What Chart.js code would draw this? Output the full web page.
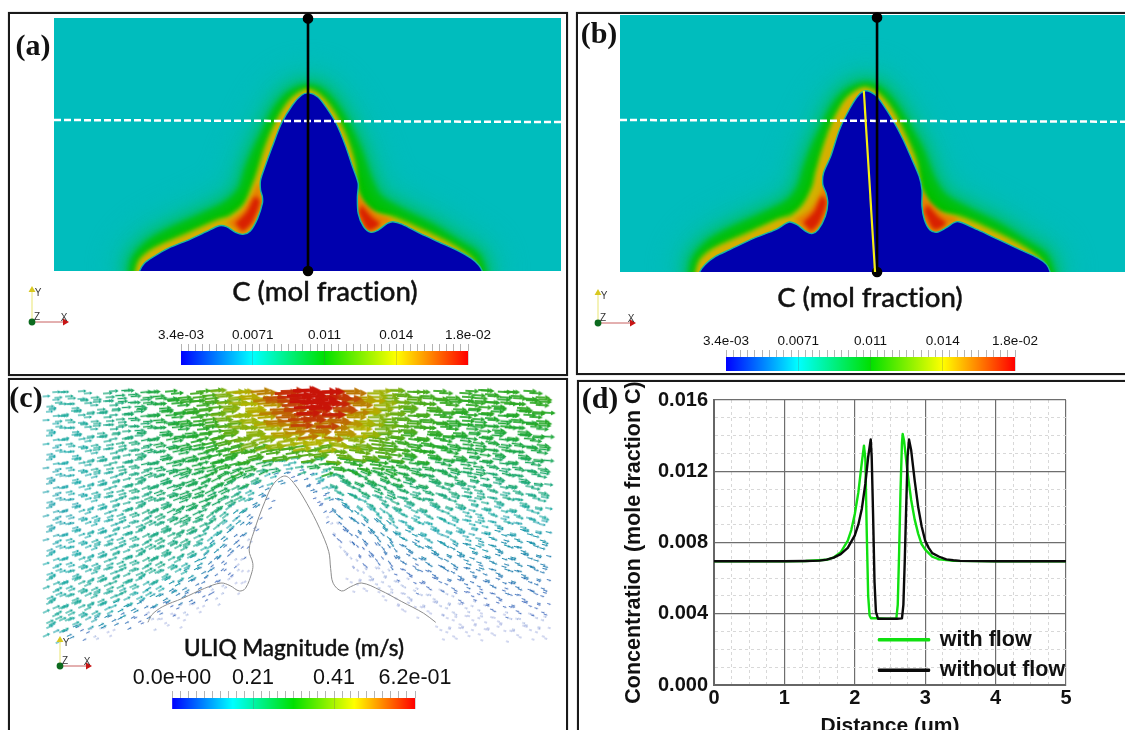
<!DOCTYPE html>
<html>
<head>
<meta charset="utf-8">
<title>Concentration and flow around a dendrite</title>
<script src="https://cdn.jsdelivr.net/npm/chart.js@4/dist/chart.umd.js"></script>
<style>
html, body { margin: 0; padding: 0; background: #fff; }
#page { position: relative; width: 1125px; height: 730px; overflow: hidden; }
canvas { position: absolute; }
.frame { position: absolute; border: 2px solid #1a1a1a; box-shadow: 0 0 1px #888; box-sizing: border-box; }
.txt { position: absolute; white-space: nowrap; transform: translate(-50%, -50%); color: #111; }
.tag { font: bold 30px "Liberation Serif", serif; }
.name { font: 500 27.5px Lato, sans-serif; -webkit-text-stroke: 0.4px #111; font-variant-ligatures: none; }
.name.small { font-size: 22.5px; }
.axis { font: 10px "Liberation Sans", sans-serif; color: #333; }
</style>
</head>
<body>
<div id="page"></div>
<script>
// Panel (a): field contours, x and y in um
var aBlueX = [0.82, 0.844, 0.891, 0.981, 1.125, 1.341, 1.503, 1.629, 1.701, 1.791, 1.864, 1.936, 2.008, 2.055, 2.055, 2.037, 2.037, 2.08, 2.152, 2.242, 2.35, 2.44, 2.512, 2.602, 2.693, 2.783, 2.873, 2.945, 3.0, 2.992, 3.0, 3.053, 3.125, 3.197, 3.287, 3.341, 3.431, 3.611, 3.791, 3.972, 4.116, 4.188, 4.224, 4.25];
var aBlueY = [-0.1, 0, 0.076, 0.141, 0.224, 0.313, 0.388, 0.447, 0.438, 0.382, 0.362, 0.395, 0.52, 0.668, 0.734, 0.799, 0.898, 1.03, 1.227, 1.457, 1.638, 1.737, 1.76, 1.72, 1.605, 1.457, 1.243, 1.03, 0.865, 0.734, 0.569, 0.4375, 0.382, 0.405, 0.47, 0.487, 0.464, 0.372, 0.289, 0.207, 0.125, 0.059, 0, -0.1];
var aGreenX = [0.766, 0.799, 0.947, 1.144, 1.473, 1.703, 1.851, 1.917, 1.999, 2.097, 2.196, 2.328, 2.492, 2.623, 2.755, 2.886, 3.001, 3.1, 3.199, 3.412, 3.708, 3.971, 4.168, 4.25];
var aGreenY = [-0.1, 0.108, 0.273, 0.388, 0.537, 0.652, 0.8, 0.998, 1.195, 1.393, 1.591, 1.739, 1.805, 1.772, 1.64, 1.426, 1.179, 0.899, 0.718, 0.586, 0.438, 0.273, 0.141, -0.1];
var aYellowX = [0.799, 0.848, 0.98, 1.309, 1.604, 1.736, 1.884, 1.966, 2.015, 2.097, 2.196, 2.328, 2.492, 2.623, 2.755, 2.87, 2.952, 2.992, 3.1, 3.347, 3.61, 3.938, 4.135, 4.201];
var aYellowY = [-0.1, 0.092, 0.207, 0.355, 0.487, 0.53, 0.652, 0.833, 0.965, 1.228, 1.459, 1.673, 1.782, 1.722, 1.558, 1.327, 1.064, 0.767, 0.586, 0.52, 0.405, 0.24, 0.092, -0.1];
var aOrangeLeftX = [1.703, 1.851, 1.966, 2.012, 2.048, 1.966, 1.867, 1.752];
var aOrangeLeftY = [0.477, 0.586, 0.767, 0.866, 0.701, 0.487, 0.378, 0.438];
var aOrangeRightX = [2.969, 2.985, 3.1, 3.231, 3.33, 3.182, 3.051];
var aOrangeRightY = [0.8, 0.569, 0.388, 0.454, 0.504, 0.569, 0.685];
var aRedLeftX = [1.785, 1.9, 1.982, 2.032, 1.95, 1.861];
var aRedLeftY = [0.471, 0.586, 0.734, 0.685, 0.471, 0.388];
var aRedRightX = [3.001, 3.1, 3.215, 3.133, 3.034];
var aRedRightY = [0.586, 0.405, 0.464, 0.537, 0.652];

// Panel (b): field contours, x and y in um
var bBlueX = [0.76, 0.789, 0.841, 0.946, 1.087, 1.332, 1.542, 1.675, 1.753, 1.84, 1.9, 1.963, 2.033, 2.057, 2.04, 2.008, 2.015, 2.086, 2.173, 2.278, 2.366, 2.436, 2.524, 2.594, 2.699, 2.804, 2.892, 2.962, 2.99, 2.99, 3.014, 3.067, 3.137, 3.225, 3.312, 3.365, 3.54, 3.75, 3.961, 4.136, 4.224, 4.259, 4.28];
var bBlueY = [-0.1, 0, 0.073, 0.155, 0.221, 0.337, 0.419, 0.495, 0.469, 0.403, 0.38, 0.419, 0.551, 0.683, 0.782, 0.865, 0.98, 1.145, 1.409, 1.624, 1.756, 1.795, 1.756, 1.673, 1.508, 1.31, 1.112, 0.947, 0.815, 0.65, 0.518, 0.419, 0.393, 0.436, 0.492, 0.495, 0.419, 0.32, 0.221, 0.139, 0.073, 0, -0.1];
var bGreenX = [0.71, 0.745, 0.89, 1.09, 1.44, 1.67, 1.79, 1.85, 1.925, 2.02, 2.12, 2.25, 2.416, 2.55, 2.69, 2.83, 2.97, 3.08, 3.2, 3.44, 3.74, 4.0, 4.2, 4.29];
var bGreenY = [-0.1, 0.12, 0.285, 0.4, 0.56, 0.68, 0.83, 1.02, 1.22, 1.42, 1.62, 1.77, 1.84, 1.81, 1.67, 1.45, 1.2, 0.92, 0.74, 0.6, 0.45, 0.285, 0.15, -0.1];
var bYellowX = [0.745, 0.795, 0.93, 1.26, 1.57, 1.71, 1.83, 1.92, 1.95, 2.03, 2.12, 2.25, 2.416, 2.55, 2.69, 2.81, 2.92, 2.98, 3.1, 3.37, 3.64, 3.97, 4.17, 4.24];
var bYellowY = [-0.1, 0.1, 0.22, 0.37, 0.51, 0.555, 0.67, 0.85, 0.98, 1.25, 1.49, 1.71, 1.815, 1.76, 1.59, 1.36, 1.1, 0.8, 0.6, 0.535, 0.42, 0.25, 0.1, -0.1];
var bOrangeLeftX = [1.73, 1.88, 1.99, 2.03, 2.07, 1.99, 1.9, 1.79];
var bOrangeLeftY = [0.52, 0.62, 0.79, 0.87, 0.7, 0.5, 0.39, 0.46];
var bOrangeRightX = [2.97, 2.99, 3.11, 3.24, 3.35, 3.2, 3.06];
var bOrangeRightY = [0.83, 0.58, 0.4, 0.47, 0.52, 0.58, 0.7];
var bRedLeftX = [1.81, 1.92, 2.0, 2.045, 1.97, 1.89];
var bRedLeftY = [0.49, 0.6, 0.75, 0.69, 0.48, 0.4];
var bRedRightX = [3.01, 3.11, 3.23, 3.15, 3.04];
var bRedRightY = [0.6, 0.42, 0.48, 0.55, 0.67];

// Section lines on the field panels, in um
var fieldCornersX = [-0.2, 5.2, 5.2, -0.2];
var fieldCornersY = [-0.2, -0.2, 2.7, 2.7];
var aCutY = [1.492, 1.472];
var bCutY = [1.505, 1.488];
var aProbeX = [2.505, 2.505];
var aProbeY = [0, 2.495];
var bProbeX = [2.545, 2.545];
var bProbeY = [0, 2.52];
var bTiltX = [2.414, 2.525];
var bTiltY = [1.795, 0];

// Colour bars
var colorPositions = [0, 0.25, 0.5, 0.75, 1];
var colorNames = ["#0000ff", "#00ffff", "#00e000", "#ffff00", "#ff0000"];
var concTicks = [0.0034, 0.00705, 0.0107, 0.01435, 0.018];
var concLabels = ["3.4e-03", "0.0071", "0.011", "0.014", "1.8e-02"];
var speedTicks = [0, 0.2067, 0.4133, 0.62];
var speedLabels = ["0.0e+00", "0.21", "0.41", "6.2e-01"];

// Panel (c): outline in um
var cOutlineX = [1.218, 1.261, 1.39, 1.625, 1.882, 2.074, 2.181, 2.289, 2.361, 2.438, 2.447, 2.404, 2.46, 2.588, 2.695, 2.823, 2.93, 3.08, 3.23, 3.337, 3.359, 3.389, 3.487, 3.594, 3.723, 3.936, 4.193, 4.45, 4.591];
var cOutlineY = [0.23, 0.316, 0.414, 0.512, 0.629, 0.691, 0.66, 0.598, 0.629, 0.824, 0.922, 1.078, 1.293, 1.645, 1.859, 1.945, 1.859, 1.625, 1.332, 1.059, 0.863, 0.688, 0.598, 0.648, 0.691, 0.609, 0.473, 0.336, 0.23];

// Panel (c): sample positions and liquid speed in cm/s, one row per y
var flowColumns = [0, 0.15, 0.3, 0.45, 0.6, 0.75, 0.9, 1.05, 1.2, 1.35, 1.5, 1.65, 1.8, 1.95, 2.1, 2.25, 2.4, 2.55, 2.7, 2.85, 3, 3.15, 3.3, 3.45, 3.6, 3.75, 3.9, 4.05, 4.2, 4.35, 4.5, 4.65, 4.8, 4.95, 5.1, 5.25, 5.4, 5.55, 5.7, 5.85, 6];
var flowRows = [2.9, 2.76, 2.62, 2.48, 2.34, 2.2, 2.06, 1.92, 1.78, 1.64, 1.5, 1.36, 1.22, 1.08, 0.94, 0.8, 0.66, 0.52, 0.38, 0.24, 0.1];
var flowSpeed = [
    [14,15,16,16,17,19,21,22,24,26,28,30,32,33,38,42,45,49,53,57,60,62,61,56,50,46,42,38,35,33,32,31,31,30,30,30,30,30,30,31,31],
    [14,15,15,16,17,18,20,22,24,26,28,30,31,33,38,41,44,47,51,55,59,60,58,54,49,45,41,37,35,33,32,31,30,30,30,29,29,30,30,30,30],
    [13,14,15,15,16,17,19,21,23,25,27,28,30,32,37,40,42,45,49,52,55,56,55,51,47,43,39,36,34,32,31,30,29,29,28,28,28,28,29,29,29],
    [13,14,14,15,16,17,18,20,22,24,26,27,29,31,35,38,40,42,46,48,50,50,49,47,44,41,37,34,33,31,30,29,28,27,27,27,27,27,27,28,28],
    [13,13,14,14,15,16,18,19,21,23,25,26,28,30,33,36,38,39,41,42,43,44,43,42,40,37,35,33,31,30,29,28,27,26,26,26,25,25,26,26,26],
    [12,13,13,14,15,16,17,19,20,22,24,25,27,28,30,31,32,33,33,33,34,35,36,36,36,35,34,32,30,29,28,27,26,25,25,24,24,24,24,24,25],
    [12,13,13,14,15,16,17,18,20,21,23,24,25,27,28,28,27,24,20,14,18,24,28,29,29,29,29,28,27,26,25,24,24,23,23,22,22,22,22,22,23],
    [12,12,13,13,14,15,17,18,19,21,22,23,24,25,25,23,19,13,8,4,6,13,18,21,23,24,25,25,24,23,22,22,21,21,20,20,20,20,20,20,21],
    [12,12,13,13,14,15,16,18,19,20,21,22,23,23,22,19,14,8,0,0,0,6,12,16,19,20,21,21,21,20,20,19,19,18,18,18,18,18,18,18,19],
    [12,12,12,13,14,15,16,17,18,19,21,22,22,21,19,15,9,4,0,0,0,3,7,11,14,16,17,18,18,18,18,17,17,16,16,16,16,16,16,16,16],
    [12,12,12,13,13,14,15,17,18,19,20,20,20,19,16,11,6,0,0,0,0,0,4,8,10,12,14,15,15,15,15,15,15,14,14,14,14,14,14,14,14],
    [12,12,12,13,13,14,15,16,17,18,19,19,18,16,12,8,3,0,0,0,0,0,2,5,7,9,11,12,13,13,13,13,13,13,13,12,12,12,12,12,12],
    [12,12,13,13,14,14,15,16,17,18,18,18,16,13,9,5,2,0,0,0,0,0,0,3,5,6,8,10,11,11,12,12,12,12,12,11,11,11,11,11,11],
    [12,13,13,13,14,15,15,16,17,17,17,16,14,10,6,3,0,0,0,0,0,0,0,2,3,4,6,7,8,9,10,10,10,11,11,10,10,10,10,10,10],
    [13,13,13,14,14,15,16,16,17,17,16,14,11,7,4,2,0,0,0,0,0,0,0,0,2,3,4,5,6,7,8,8,8,9,9,9,9,9,9,8,8],
    [13,13,14,14,15,15,16,16,16,15,14,11,8,4,3,1,0,0,0,0,0,0,0,0,1,2,2,3,4,4,5,6,6,7,7,8,8,8,7,7,7],
    [14,14,14,15,15,16,16,15,14,13,11,8,5,3,2,1,0,0,0,0,0,0,0,0,1,1,2,2,2,3,3,4,4,5,5,6,6,6,6,5,5],
    [14,14,15,15,15,15,14,13,11,9,7,5,3,2,0,0,0,0,0,0,0,0,0,0,0,0,1,1,2,2,2,2,3,3,3,4,4,4,4,4,4],
    [14,15,15,15,14,13,11,9,6,4,3,2,1,0,0,0,0,0,0,0,0,0,0,0,0,0,0,0,1,1,1,2,2,2,2,3,3,3,3,3,3],
    [15,15,14,12,10,7,5,3,2,1,1,0,0,0,0,0,0,0,0,0,0,0,0,0,0,0,0,0,0,0,0,1,1,1,1,1,2,2,2,2,2],
    [14,12,8,4,2,1,0,0,0,0,0,0,0,0,0,0,0,0,0,0,0,0,0,0,0,0,0,0,0,0,0,1,1,1,1,1,1,1,1,1,1]
];
// Each cell of the table above holds a few arrows; the mesh is not regular
var cellSitesX = [0, 0.07, -0.05, 0.03];
var cellSitesY = [0, 0.05, 0.065, -0.06];
var columnShiftY = [0, 0.03, -0.02, 0.04, -0.035, 0.015, -0.01];
var flowLimitsX = [0.03, 5.92];
var flowTopY = 2.95;

// Panel (c): flow direction in degrees, coarse table read from the arrows
var angleColumns = [0, 0.75, 1.5, 2.25, 3, 3.75, 4.5, 5.25, 6];
var angleRows = [2.6, 2.2, 1.8, 1.4, 1, 0.6, 0.2];
var flowAngle = [
    [4, 4, 5, 5, 2, 0, -2, -3, -3],
    [8, 10, 12, 14, 8, -6, -8, -7, -5],
    [12, 15, 20, 26, 18, -22, -14, -11, -8],
    [15, 20, 26, 38, 30, -40, -22, -14, -12],
    [18, 22, 28, 40, 30, -50, -28, -18, -15],
    [22, 25, 30, 35, 20, -20, -25, -20, -18],
    [25, 28, 25, 15, 0, -10, -18, -18, -18]
];

// Panel (d): line scan along the dashed line
var noFlowX = [0, 0.5, 1, 1.3, 1.5, 1.6, 1.7, 1.8, 1.9, 2, 2.05, 2.1, 2.15, 2.19, 2.226, 2.24, 2.26, 2.28, 2.3, 2.33, 2.4, 2.5, 2.6, 2.67, 2.69, 2.71, 2.73, 2.75, 2.77, 2.8, 2.85, 2.9, 2.95, 3, 3.05, 3.1, 3.2, 3.3, 3.4, 3.5, 4, 5];
var noFlowC = [0.00695, 0.00695, 0.00695, 0.00696, 0.00698, 0.00704, 0.00715, 0.00735, 0.0077, 0.0084, 0.009, 0.0099, 0.0113, 0.0128, 0.01379, 0.0128, 0.0095, 0.0058, 0.0041, 0.00372, 0.00372, 0.00372, 0.00372, 0.00374, 0.0045, 0.007, 0.01, 0.0128, 0.01379, 0.0132, 0.0115, 0.01, 0.0089, 0.0081, 0.0077, 0.0074, 0.0072, 0.00705, 0.007, 0.00697, 0.00695, 0.00695];
var withFlowX = [0, 0.5, 1, 1.3, 1.6, 1.7, 1.8, 1.9, 1.95, 2, 2.05, 2.1, 2.13, 2.15, 2.17, 2.19, 2.21, 2.23, 2.3, 2.45, 2.59, 2.61, 2.63, 2.65, 2.67, 2.68, 2.7, 2.75, 2.8, 2.85, 2.9, 2.95, 3, 3.05, 3.1, 3.2, 3.4, 4, 5];
var withFlowC = [0.00695, 0.00695, 0.00695, 0.00696, 0.00703, 0.00716, 0.00745, 0.0081, 0.0087, 0.0096, 0.0108, 0.0125, 0.01344, 0.0127, 0.0085, 0.005, 0.0039, 0.00375, 0.00375, 0.00372, 0.00372, 0.0045, 0.0075, 0.011, 0.0136, 0.01409, 0.0137, 0.0119, 0.0104, 0.0093, 0.0085, 0.0079, 0.0076, 0.0074, 0.0072, 0.00705, 0.00697, 0.00695, 0.00695];

Chart.defaults.animation = false;
Chart.defaults.responsive = false;
Chart.defaults.plugins.legend.display = false;
Chart.defaults.plugins.tooltip.enabled = false;

var page = document.getElementById("page");

function addCanvas(left, top, width, height) {
    var c = document.createElement("canvas");
    c.width = width;
    c.height = height;
    c.style.left = left + "px";
    c.style.top = top + "px";
    page.appendChild(c);
    return c.getContext("2d");
}

function addText(x, y, text, cls) {
    var d = document.createElement("div");
    d.className = "txt " + cls;
    d.style.left = x + "px";
    d.style.top = y + "px";
    d.textContent = text;
    page.appendChild(d);
}

function addFrame(left, top, width, height) {
    var d = document.createElement("div");
    d.className = "frame";
    d.style.left = left + "px";
    d.style.top = top + "px";
    d.style.width = width + "px";
    d.style.height = height + "px";
    page.appendChild(d);
}

function toPoints(xs, ys) {
    return xs.map(function(x, i) {
        return { x: x, y: ys[i] };
    });
}

// Filler runs before any inline plugin in beforeDatasetDraw, so the blur for
// the next dataset has to be set once the previous one has finished.
var blurPlugin = {
    id: "blurLayers",
    beforeDatasetsDraw: function(chart) {
        var sets = chart.data.datasets;
        chart.ctx.filter = sets[sets.length - 1].blur ? "blur(" + sets[sets.length - 1].blur + "px)" : "none";
    },
    afterDatasetDraw: function(chart, args) {
        var next = chart.data.datasets[args.index - 1];
        chart.ctx.filter = next && next.blur ? "blur(" + next.blur + "px)" : "none";
    },
    afterDatasetsDraw: function(chart) {
        chart.ctx.filter = "none";
    }
};

function shape(xs, ys, color, blur, edge, grow) {
    return {
        data: toPoints(xs, ys),
        fill: "shape",
        backgroundColor: color,
        borderColor: edge || color,
        borderWidth: grow || (edge ? 1.4 : 0),
        tension: 0.3,
        pointRadius: 0,
        blur: blur
    };
}

function hiddenAxis(min, max) {
    return { type: "linear", display: false, min: min, max: max };
}

// One field panel: width and height are the plot area, 5 um across
function fieldPanel(left, top, width, height, yMax, f) {
    var pad = 8;
    var sets = [];
    // the first dataset is drawn last
    if (f.tiltX) {
        sets.push({ data: toPoints(f.tiltX, f.tiltY), borderColor: "#f5ee10", borderWidth: 2.2, pointRadius: 0, clip: false });
    }
    sets.push({ data: toPoints(f.probeX, f.probeY), borderColor: "#000", backgroundColor: "#000", borderWidth: 2.6, pointRadius: 4, clip: false });
    sets.push({ data: toPoints([0, 5], f.cutY), borderColor: "#fff", borderWidth: 2.5, borderDash: [7, 3], pointRadius: 0 });
    sets.push(shape(f.blueX, f.blueY, "#0000ae", 0.6, "#18b8a0"));
    sets.push(shape(f.redLeftX, f.redLeftY, "#d82000", 2));
    sets.push(shape(f.redRightX, f.redRightY, "#d82000", 2));
    sets.push(shape(f.orangeLeftX, f.orangeLeftY, "#e88000", 2));
    sets.push(shape(f.orangeRightX, f.orangeRightY, "#e88000", 2));
    sets.push(shape(f.yellowX, f.yellowY, "#d4b000", 1.8));
    sets.push(shape(f.yellowX, f.yellowY, "#80c000", 2.2, null, 5));
    sets.push(shape(f.greenX, f.greenY, "#00c000", 3.5, null, 6));
    sets.push(shape(f.greenX, f.greenY, "#00c070", 7, null, 20));
    sets.push(shape(f.greenX, f.greenY, "#00c0a8", 12, null, 42));
    sets.push(shape(fieldCornersX, fieldCornersY, "#00bdbd", 0));
    new Chart(addCanvas(left - pad, top - pad, width + 2 * pad, height + 2 * pad), {
        type: "line",
        data: { datasets: sets },
        options: {
            layout: { padding: pad },
            scales: { x: hiddenAxis(0, 5), y: hiddenAxis(0, yMax) }
        },
        plugins: [blurPlugin]
    });
}

function colorBar(left, top, width, height, ticks, labels, fontSize, minorPerMajor, labelRoom, labelGap) {
    var min = ticks[0];
    var max = ticks[ticks.length - 1];
    var side = 45;
    var step = (ticks[1] - ticks[0]) / minorPerMajor;
    new Chart(addCanvas(left - side, top - labelRoom, width + 2 * side, height + labelRoom), {
        type: "bar",
        data: {
            labels: [""],
            datasets: [{
                data: [[min, max]],
                barPercentage: 1,
                categoryPercentage: 1,
                backgroundColor: function(ctx) {
                    var area = ctx.chart.chartArea;
                    if (!area) return "#00f";
                    var g = ctx.chart.ctx.createLinearGradient(area.left, 0, area.right, 0);
                    colorPositions.forEach(function(p, i) {
                        g.addColorStop(p, colorNames[i]);
                    });
                    return g;
                }
            }]
        },
        options: {
            indexAxis: "y",
            layout: { padding: { left: side, right: side } },
            scales: {
                y: { display: false },
                x: {
                    type: "linear",
                    position: "top",
                    min: min,
                    max: max,
                    afterBuildTicks: function(scale) {
                        var list = [];
                        for (var k = 0; k <= minorPerMajor * (ticks.length - 1); k++) {
                            list.push({ value: min + k * step });
                        }
                        scale.ticks = list;
                    },
                    afterFit: function(scale) {
                        scale.height = labelRoom;
                    },
                    border: { display: false },
                    grid: {
                        z: 1,
                        tickLength: 7,
                        tickWidth: 1,
                        tickColor: "#b4b4b4",
                        color: function(ctx) {
                            return ctx.index % minorPerMajor === 0 && ctx.index > 0 ? "rgba(90,90,90,0.25)" : "rgba(0,0,0,0)";
                        }
                    },
                    ticks: {
                        autoSkip: false,
                        maxRotation: 0,
                        padding: labelGap,
                        color: "#111",
                        font: { family: "Liberation Sans", size: fontSize },
                        callback: function(value, index) {
                            return index % minorPerMajor === 0 ? labels[index / minorPerMajor] : "";
                        }
                    }
                }
            }
        }
    });
}

// Small XYZ marker in the corner of each field panel
function triad(originX, originY, w, h) {
    var pad = 7;
    new Chart(addCanvas(originX - pad, originY - h - pad, w + 2 * pad, h + 2 * pad), {
        type: "line",
        data: {
            datasets: [
                { data: toPoints([0], [0]), pointRadius: 3.4, backgroundColor: "#0c6a1e", borderWidth: 0, clip: false },
                { data: toPoints([1], [0]), pointStyle: "triangle", pointRotation: 90, pointRadius: 4, backgroundColor: "#c81414", borderWidth: 0, clip: false },
                { data: toPoints([0], [1]), pointStyle: "triangle", pointRadius: 4, backgroundColor: "#d8c820", borderWidth: 0, clip: false },
                { data: toPoints([0, 1], [0, 0]), borderColor: "#c86060", borderWidth: 1, pointRadius: 0, clip: false },
                { data: toPoints([0, 0], [0, 1]), borderColor: "#f0eea0", borderWidth: 1.5, pointRadius: 0, clip: false }
            ]
        },
        options: {
            layout: { padding: pad },
            scales: { x: hiddenAxis(0, 1), y: hiddenAxis(0, 1) }
        }
    });
    addText(originX + 6, originY - h + 2, "Y", "axis");
    addText(originX + 5, originY - 6, "Z", "axis");
    addText(originX + w - 1, originY - 5, "X", "axis");
}

// Arrow sprites, one per speed value
var arrowColors = ["#1414b0", "#18a8a8", "#20a828", "#b4b400", "#c81408"];
var sprites = {};

function mixColor(t) {
    var n = Math.min(3, Math.floor(t * 4));
    var f = t * 4 - n;
    var a = parseInt(arrowColors[n].slice(1), 16);
    var b = parseInt(arrowColors[n + 1].slice(1), 16);
    var ch = [16, 8, 0].map(function(s) {
        var p = (a >> s) & 255;
        var q = (b >> s) & 255;
        return Math.round(p + (q - p) * f);
    });
    return "rgb(" + ch.join(",") + ")";
}

function arrowSprite(speed) {
    if (sprites[speed]) return sprites[speed];
    var len = 2.5 + speed * 0.38;
    var shaft = 0.55 + speed * 0.04;
    var head = shaft * 3;
    var tip = len * 0.34;
    var c = document.createElement("canvas");
    c.width = Math.ceil(len) + 2;
    c.height = Math.ceil(head) + 2;
    var g = c.getContext("2d");
    var mid = c.height / 2;
    g.fillStyle = mixColor(Math.min(1, speed / 62 + 0.04));
    g.globalAlpha = speed < 3 ? 0.55 : 1;
    g.fillRect(1, mid - shaft / 2, len - tip, shaft);
    g.beginPath();
    g.moveTo(1 + len - tip, mid - head / 2);
    g.lineTo(1 + len, mid);
    g.lineTo(1 + len - tip, mid + head / 2);
    g.closePath();
    g.fill();
    sprites[speed] = c;
    return c;
}

function nearestIndex(list, v) {
    var best = 0;
    list.forEach(function(item, i) {
        if (Math.abs(item - v) < Math.abs(list[best] - v)) best = i;
    });
    return best;
}

function flowPoints() {
    var points = [];
    flowSpeed.forEach(function(row, j) {
        row.forEach(function(speed, i) {
            if (speed === 0) return;
            cellSitesX.forEach(function(dx, k) {
                var x = flowColumns[i] + (j % 2 ? 0.075 : 0) + dx;
                var y = flowRows[j] + cellSitesY[k] + columnShiftY[(i + k) % columnShiftY.length];
                if (x < flowLimitsX[0] || x > flowLimitsX[1] || y > flowTopY) return;
                var a = flowAngle[nearestIndex(angleRows, y)][nearestIndex(angleColumns, x)];
                points.push({ x: x, y: y, speed: speed, angle: a });
            });
        });
    });
    // slow arrows underneath, fast ones on top
    points.sort(function(p, q) {
        return p.speed - q.speed;
    });
    return points;
}

function flowPanel() {
    var pad = 16;
    new Chart(addCanvas(44 - pad, 386 - pad, 512 + 2 * pad, 256 + 2 * pad), {
        type: "scatter",
        data: {
            datasets: [
                { data: toPoints(cOutlineX, cOutlineY), showLine: true, tension: 0.35, borderColor: "#8c8c8c", borderWidth: 1, pointRadius: 0 },
                {
                    data: flowPoints(),
                    clip: false,
                    pointStyle: function(ctx) { return arrowSprite(ctx.raw.speed); },
                    pointRotation: function(ctx) { return -ctx.raw.angle; }
                }
            ]
        },
        options: {
            layout: { padding: pad },
            scales: { x: hiddenAxis(0, 6), y: hiddenAxis(0, 3) }
        }
    });
}

var sansBold = { family: "Liberation Sans", size: 20, weight: "bold" };
var legendBold = { family: "Liberation Sans", size: 21.5, weight: "bold" };
var yTitleBold = { family: "Liberation Sans", size: 21.5, weight: "bold" };
var xTitleBold = { family: "Liberation Sans", size: 21, weight: "bold" };

// The legend sits inside the plot, below the dip of the curves
var legendSpot = {
    id: "legendSpot",
    afterLayout: function(chart) {
        var l = chart.legend;
        var a = chart.chartArea;
        l.left = a.left + 156;
        l.right = a.right + 50;
        l.top = a.top + 220;
        l.bottom = chart.height + 100;
    }
};

function scanPanel() {
    new Chart(addCanvas(615, 382, 510, 357), {
        type: "line",
        data: {
            datasets: [
                { label: "without flow", data: toPoints(noFlowX, noFlowC), borderColor: "#0a0a0a", backgroundColor: "#0a0a0a", borderWidth: 2.4, borderJoinStyle: "round", pointRadius: 0 },
                { label: "with flow", data: toPoints(withFlowX, withFlowC), borderColor: "#10e010", backgroundColor: "#10e010", borderWidth: 2.4, borderJoinStyle: "round", pointRadius: 0 }
            ]
        },
        options: {
            layout: { padding: { top: 12, right: 59 } },
            plugins: {
                legend: {
                    display: true,
                    position: "chartArea",
                    align: "start",
                    labels: {
                        boxWidth: 50,
                        boxHeight: 1,
                        padding: 9,
                        color: "#111",
                        font: legendBold,
                        sort: function(a, b) { return b.datasetIndex - a.datasetIndex; }
                    }
                }
            },
            scales: {
                x: {
                    type: "linear",
                    min: 0,
                    max: 5,
                    afterBuildTicks: function(scale) {
                        var list = [];
                        for (var k = 0; k <= 20; k++) list.push({ value: k * 0.25 });
                        scale.ticks = list;
                    },
                    afterFit: function(scale) { scale.height = 54; },
                    title: { display: true, text: "Distance (um)", color: "#111", font: xTitleBold, padding: { top: 0, bottom: 0 } },
                    border: {
                        color: "#666",
                        width: 2,
                        dash: function(ctx) { return ctx.index % 4 === 0 ? [] : [3, 3]; }
                    },
                    grid: {
                        drawTicks: false,
                        color: function(ctx) { return ctx.index % 4 === 0 ? "#6e6e6e" : "#d8d8d8"; },
                        lineWidth: function(ctx) { return ctx.index % 4 === 0 ? 1.2 : 1; }
                    },
                    ticks: {
                        autoSkip: false,
                        maxRotation: 0,
                        padding: 1,
                        color: "#111",
                        font: sansBold,
                        callback: function(value, index) { return index % 4 === 0 ? String(value) : ""; }
                    }
                },
                y: {
                    type: "linear",
                    min: 0,
                    max: 0.016,
                    afterBuildTicks: function(scale) {
                        var list = [];
                        for (var k = 0; k <= 16; k++) list.push({ value: k * 0.001 });
                        scale.ticks = list;
                    },
                    afterFit: function(scale) { scale.width = 99; },
                    title: { display: true, text: "Concentration (mole fraction C)", color: "#111", font: yTitleBold, padding: { top: 6, bottom: 0 } },
                    border: {
                        color: "#666",
                        width: 2,
                        dash: function(ctx) { return ctx.index % 4 === 0 ? [] : [3, 3]; }
                    },
                    grid: {
                        drawTicks: false,
                        color: function(ctx) { return ctx.index % 4 === 0 ? "#6e6e6e" : "#d8d8d8"; },
                        lineWidth: function(ctx) { return ctx.index % 4 === 0 ? 1.2 : 1; }
                    },
                    ticks: {
                        autoSkip: false,
                        padding: 6,
                        color: "#111",
                        font: sansBold,
                        callback: function(value, index) { return index % 4 === 0 ? (index * 0.001).toFixed(3) : ""; }
                    }
                }
            }
        },
        plugins: [legendSpot]
    });
}

// Panel frames
addFrame(8, 12, 560, 364);
addFrame(576, 12, 560, 363);
addFrame(8, 378, 560, 370);
addFrame(577, 380, 560, 370);

fieldPanel(54, 18, 507, 253, 2.5, {
    blueX: aBlueX, blueY: aBlueY, greenX: aGreenX, greenY: aGreenY, yellowX: aYellowX, yellowY: aYellowY,
    orangeLeftX: aOrangeLeftX, orangeLeftY: aOrangeLeftY, orangeRightX: aOrangeRightX, orangeRightY: aOrangeRightY,
    redLeftX: aRedLeftX, redLeftY: aRedLeftY, redRightX: aRedRightX, redRightY: aRedRightY,
    cutY: aCutY, probeX: aProbeX, probeY: aProbeY
});
fieldPanel(620, 15, 505, 257, 2.545, {
    blueX: bBlueX, blueY: bBlueY, greenX: bGreenX, greenY: bGreenY, yellowX: bYellowX, yellowY: bYellowY,
    orangeLeftX: bOrangeLeftX, orangeLeftY: bOrangeLeftY, orangeRightX: bOrangeRightX, orangeRightY: bOrangeRightY,
    redLeftX: bRedLeftX, redLeftY: bRedLeftY, redRightX: bRedRightX, redRightY: bRedRightY,
    cutY: bCutY, probeX: bProbeX, probeY: bProbeY, tiltX: bTiltX, tiltY: bTiltY
});
flowPanel();
scanPanel();

colorBar(181, 351, 287, 14, concTicks, concLabels, 13.5, 10, 26, 1);
colorBar(726, 357, 289, 14, concTicks, concLabels, 13.5, 10, 26, 1);
colorBar(172, 698, 243, 11, speedTicks, speedLabels, 21.5, 10, 32, 0);

triad(32, 322, 33, 32);
triad(598, 323, 34, 30);
triad(60, 666, 28, 26);

addText(33, 45, "(a)", "tag");
addText(599, 33, "(b)", "tag");
addText(26, 397, "(c)", "tag");
addText(600, 398, "(d)", "tag");
addText(325, 290, "C (mol fraction)", "name");
addText(870, 296, "C (mol fraction)", "name");
addText(294, 647, "ULIQ Magnitude (m/s)", "name small");
</script>
</body>
</html>
